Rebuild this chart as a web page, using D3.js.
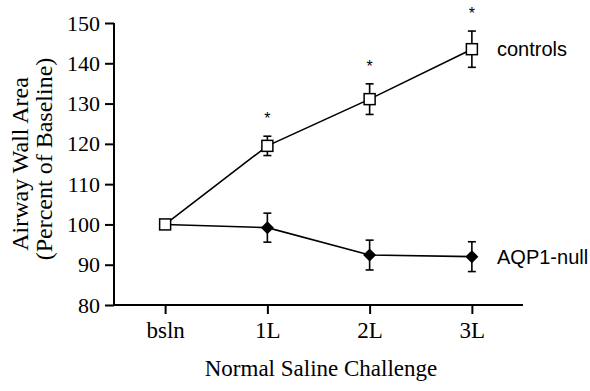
<!DOCTYPE html>
<html>
<head>
<meta charset="utf-8">
<script src="https://cdn.jsdelivr.net/npm/d3@7"></script>
<style>
  body { margin: 0; background: #fff; }
  svg { display: block; }
  .serif { font-family: "Liberation Serif", "DejaVu Serif", serif; }
  .sans { font-family: "Liberation Sans", Arial, sans-serif; }
</style>
</head>
<body>
<figure id="chart" style="margin:0"></figure>
<script>
const categories = ['bsln', '1L', '2L', '3L'];
const controlsMean = [100, 119.5, 131.1, 143.5];
const controlsErr = [0, 2.4, 3.8, 4.5];
const nullMean = [100, 99.2, 92.4, 92.0];
const nullErr = [0, 3.6, 3.7, 3.7];
const significant = [false, true, true, true];
const yTicks = [80, 90, 100, 110, 120, 130, 140, 150];

const width = 590;
const height = 391;

const svg = d3.select('#chart').append('svg')
  .attr('width', width)
  .attr('height', height);

const x = d3.scalePoint().domain(categories).range([114, 523]).padding(0.5);
const y = d3.scaleLinear().domain([80, 150]).range([305, 23]);

// axes
const yAxis = svg.append('g')
  .attr('transform', 'translate(114,0)')
  .call(d3.axisLeft(y).tickValues(yTicks).tickSize(9).tickSizeOuter(0).tickPadding(5));
const xAxis = svg.append('g')
  .attr('transform', 'translate(0,305)')
  .call(d3.axisBottom(x).tickSize(9).tickSizeOuter(0).tickPadding(8));

[yAxis, xAxis].forEach(function (g) {
  g.select('.domain').attr('stroke', '#000').attr('stroke-width', 2);
  g.selectAll('.tick line').attr('stroke', '#000').attr('stroke-width', 2);
  g.selectAll('.tick text')
    .attr('class', 'serif')
    .attr('fill', '#000');
});
yAxis.selectAll('.tick text').style('font-size', '22px');
xAxis.selectAll('.tick text').style('font-size', '23px');
// extend the x axis right to the end of the range
xAxis.select('.domain').attr('d', 'M114,0H523');
yAxis.select('.domain').attr('d', 'M0,' + y(150) + 'V' + (y(80) + 1));

// axis titles
svg.append('text')
  .attr('class', 'serif')
  .attr('x', 321)
  .attr('y', 376)
  .attr('text-anchor', 'middle')
  .style('font-size', '23px')
  .text('Normal Saline Challenge');

svg.append('text')
  .attr('class', 'serif')
  .attr('transform', 'translate(28,164) rotate(-90)')
  .attr('text-anchor', 'middle')
  .style('font-size', '24px')
  .text('Airway Wall Area');
svg.append('text')
  .attr('class', 'serif')
  .attr('transform', 'translate(52,159) rotate(-90)')
  .attr('text-anchor', 'middle')
  .style('font-size', '24px')
  .text('(Percent of Baseline)');

const line = d3.line()
  .x(function (d) { return x(d.c); })
  .y(function (d) { return y(d.v); });

function drawSeries(mean, err, marker) {
  const data = categories.map(function (c, i) { return { c: c, v: mean[i], e: err[i] }; });
  const g = svg.append('g');
  g.append('path')
    .datum(data)
    .attr('d', line)
    .attr('fill', 'none')
    .attr('stroke', '#000')
    .attr('stroke-width', 1.6);

  const bars = g.selectAll('.err')
    .data(data.filter(function (d) { return d.e > 0; }))
    .enter().append('g');
  bars.append('line')
    .attr('x1', function (d) { return x(d.c); })
    .attr('x2', function (d) { return x(d.c); })
    .attr('y1', function (d) { return y(d.v + d.e); })
    .attr('y2', function (d) { return y(d.v - d.e); })
    .attr('stroke', '#000').attr('stroke-width', 1.6);
  [1, -1].forEach(function (s) {
    bars.append('line')
      .attr('x1', function (d) { return x(d.c) - 4; })
      .attr('x2', function (d) { return x(d.c) + 4; })
      .attr('y1', function (d) { return y(d.v + s * d.e); })
      .attr('y2', function (d) { return y(d.v + s * d.e); })
      .attr('stroke', '#000').attr('stroke-width', 1.6);
  });

  if (marker === 'square') {
    g.selectAll('.mk').data(data).enter().append('rect')
      .attr('x', function (d) { return x(d.c) - 5.5; })
      .attr('y', function (d) { return y(d.v) - 5.5; })
      .attr('width', 11).attr('height', 11)
      .attr('fill', '#fff').attr('stroke', '#000').attr('stroke-width', 1.5);
  } else {
    g.selectAll('.mk').data(data.slice(1)).enter().append('path')
      .attr('d', function (d) {
        const cx = x(d.c), cy = y(d.v), r = 6.5;
        return 'M' + cx + ',' + (cy - r) + 'L' + (cx + r) + ',' + cy + 'L' + cx + ',' + (cy + r) + 'L' + (cx - r) + ',' + cy + 'Z';
      })
      .attr('fill', '#000');
  }
  return data;
}

// AQP1-null first so the control square at baseline sits on top
drawSeries(nullMean, nullErr, 'diamond');
const ctrl = drawSeries(controlsMean, controlsErr, 'square');

// significance stars
svg.selectAll('.star')
  .data(ctrl.filter(function (d, i) { return significant[i]; }))
  .enter().append('text')
  .attr('class', 'sans')
  .attr('x', function (d) { return x(d.c); })
  .attr('y', function (d) { return y(d.v + d.e) - 12; })
  .attr('text-anchor', 'middle')
  .style('font-size', '16px')
  .text('*');

// series labels
svg.append('text')
  .attr('class', 'sans')
  .attr('x', 497)
  .attr('y', y(controlsMean[3]) + 7)
  .style('font-size', '20px')
  .text('controls');
svg.append('text')
  .attr('class', 'sans')
  .attr('x', 497)
  .attr('y', y(nullMean[3]) + 7)
  .style('font-size', '20px')
  .text('AQP1-null');
</script>
</body>
</html>
